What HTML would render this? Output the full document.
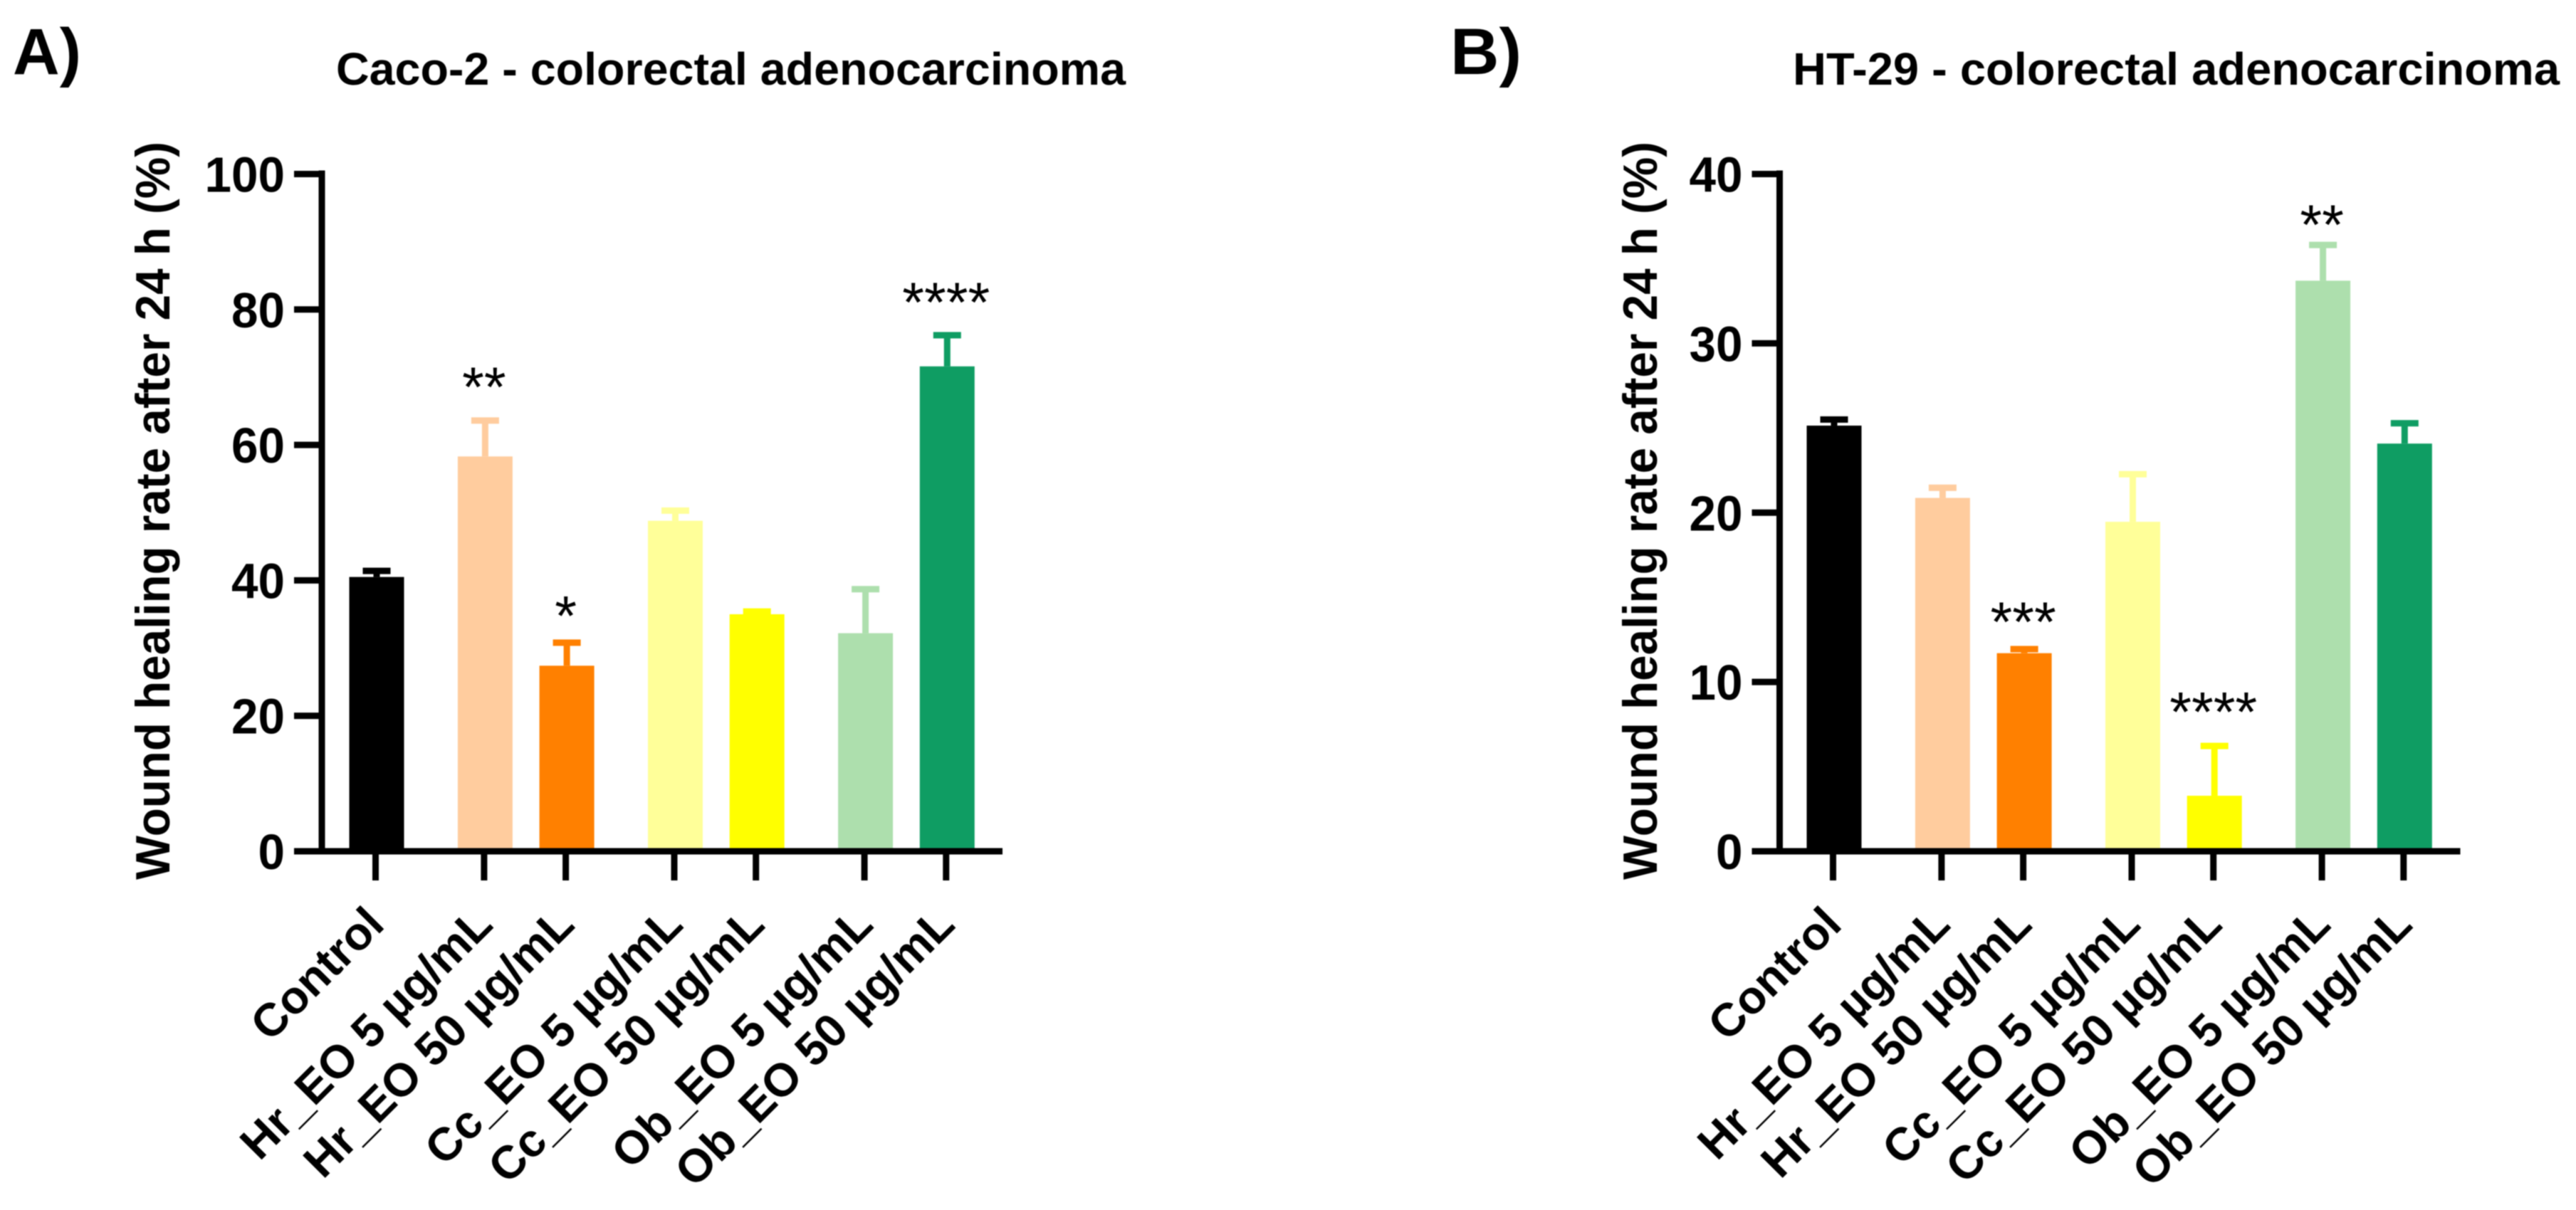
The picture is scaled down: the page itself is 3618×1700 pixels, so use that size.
<!DOCTYPE html>
<html lang="en">
<head>
<meta charset="utf-8">
<title>Wound healing rate after 24 h</title>
<style>
html,body{margin:0;padding:0;background:#fff;width:3618px;height:1700px;overflow:hidden}
svg{display:block;font-family:"Liberation Sans",sans-serif;filter:blur(0.8px)}
</style>
</head>
<body>
<svg id="figure" xmlns="http://www.w3.org/2000/svg" width="3618" height="1700" viewBox="0 0 3618 1700">
  <rect x="0" y="0" width="3618" height="1700" fill="#fff"/>
  <text x="18" y="104" font-size="92" font-weight="700" textLength="96" lengthAdjust="spacingAndGlyphs">A)</text>
  <text x="2037" y="104" font-size="92" font-weight="700" textLength="100" lengthAdjust="spacingAndGlyphs">B)</text>
  <text x="472" y="119" font-size="64" font-weight="700" textLength="1109" lengthAdjust="spacingAndGlyphs">Caco-2 - colorectal adenocarcinoma</text>
  <text x="2518" y="119" font-size="64" font-weight="700" textLength="1077" lengthAdjust="spacingAndGlyphs">HT-29 - colorectal adenocarcinoma</text>
  <g id="chart-a"></g>
  <g id="chart-b"></g>
</svg>
<script>
const categories = ["Control", "Hr_EO 5 µg/mL", "Hr_EO 50 µg/mL", "Cc_EO 5 µg/mL", "Cc_EO 50 µg/mL", "Ob_EO 5 µg/mL", "Ob_EO 50 µg/mL"];
const categoryGroups = [0, 1, 1, 2, 2, 3, 3];
const barColors = ["#000000", "#FFCC9E", "#FF8000", "#FFFF99", "#FFFF00", "#ADDFAD", "#0F9D63"];

const caco2Means = [40.5, 58.3, 27.4, 48.8, 35.0, 32.2, 71.6];
const caco2ErrorTops = [41.4, 63.6, 30.8, 50.3, 35.4, 38.7, 76.2];
const caco2Stars = ["", "**", "*", "", "", "", "****"];
const caco2StarLevels = [0, 69.8, 36.0, 0, 0, 0, 82.3];
const caco2Ticks = [0, 20, 40, 60, 80, 100];

const ht29Means = [25.14, 20.87, 11.7, 19.46, 3.28, 33.7, 24.08];
const ht29ErrorTops = [25.5, 21.47, 11.94, 22.27, 6.22, 35.81, 25.28];
const ht29Stars = ["", "", "***", "", "****", "**", ""];
const ht29StarLevels = [0, 0, 14.04, 0, 8.73, 37.5, 0];
const ht29Ticks = [0, 10, 20, 30, 40];

const SVG_NS = "http://www.w3.org/2000/svg";

function makeEl(tag, attrs, parent) {
  const el = document.createElementNS(SVG_NS, tag);
  for (const key in attrs) el.setAttribute(key, attrs[key]);
  parent.appendChild(el);
  return el;
}

function drawChart(cfg) {
  const g = document.getElementById(cfg.id);
  const y0 = 1196, yTop = 244.5;
  const maxTick = cfg.ticks[cfg.ticks.length - 1];
  const yScale = v => y0 - (v / maxTick) * (y0 - yTop);
  const xScale = i => cfg.xStart + 114.7 * i + 37.7 * categoryGroups[i];

  categories.forEach((cat, i) => {
    const cx = xScale(i) + 1.5;
    const color = barColors[i];

    const stem = makeEl("rect", {x: cx - 4.5, y: yScale(cfg.errors[i]), width: 9, height: Math.max(0, yScale(cfg.means[i]) - yScale(cfg.errors[i])), fill: color}, g);
    
    

    const cap = makeEl("rect", {x: cx - 19.5, y: yScale(cfg.errors[i]) - 4.5, width: 39, height: 9, fill: color}, g);
    
    

    const bar = makeEl("rect", {x: cx - 38.5, y: yScale(cfg.means[i]), width: 77, height: y0 - yScale(cfg.means[i]), fill: color}, g);
    
    

    if (cfg.stars[i]) {
      const star = makeEl("text", {x: xScale(i), y: yScale(cfg.starLevels[i]) + 39, "font-size": 79, "text-anchor": "middle"}, g);
      star.textContent = cfg.stars[i];
      
      
    }

    const tick = makeEl("rect", {x: xScale(i) - 4.5, y: y0, width: 9, height: 41, fill: "#000"}, g);
    
    

    const ax = xScale(i) + 15, ay = 1302;
    const label = makeEl("text", {x: ax, y: ay, "font-size": 65, "font-weight": 700, "text-anchor": "end", transform: "rotate(-45 " + ax + " " + ay + ")"}, g);
    label.textContent = cat;
    
    
  });

  const yAxis = makeEl("rect", {x: cfg.axisX - 4.5, y: yTop - 5, width: 9, height: y0 - yTop + 9, fill: "#000"}, g);
  
  

  const xAxis = makeEl("rect", {x: cfg.axisX - 39, y: y0 - 4.5, width: 995, height: 9, fill: "#000"}, g);
  
  

  cfg.ticks.forEach(t => {
    const tick = makeEl("rect", {x: cfg.axisX - 39, y: yScale(t) - 4.5, width: 39, height: 9, fill: "#000"}, g);
    
    

    const text = String(t);
    const label = makeEl("text", {x: cfg.axisX - 52, y: yScale(t) + 25, "font-size": 70, "font-weight": 700, "text-anchor": "end", textLength: 37.5 * text.length, lengthAdjust: "spacingAndGlyphs"}, g);
    label.textContent = text;
    
    
  });

  const tx = cfg.titleX, ty = 1236;
  const yTitle = makeEl("text", {x: tx, y: ty, "font-size": 68, "font-weight": 700, textLength: 1037, lengthAdjust: "spacingAndGlyphs", transform: "rotate(-90 " + tx + " " + ty + ")"}, g);
  yTitle.textContent = "Wound healing rate after 24 h (%)";
  
  
}

drawChart({id: "chart-a", xStart: 527.5, axisX: 452, titleX: 238, ticks: caco2Ticks, means: caco2Means, errors: caco2ErrorTops, stars: caco2Stars, starLevels: caco2StarLevels});
drawChart({id: "chart-b", xStart: 2574.5, axisX: 2499.5, titleX: 2327, ticks: ht29Ticks, means: ht29Means, errors: ht29ErrorTops, stars: ht29Stars, starLevels: ht29StarLevels});
</script>
</body>
</html>
